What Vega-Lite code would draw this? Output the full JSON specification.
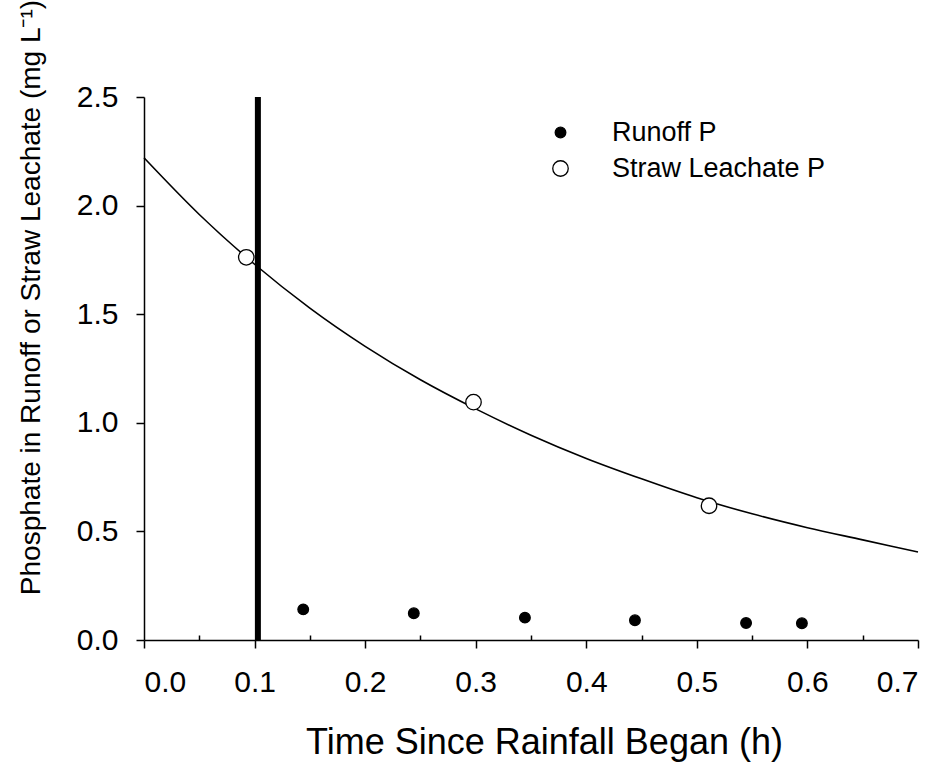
{
  "$schema": "https://vega.github.io/schema/vega-lite/v6.json",
  "autosize": {"type": "none"},
  "width": 774,
  "height": 543,
  "padding": {"left": 144, "top": 97, "right": 29, "bottom": 123},
  "background": "white",
  "config": {
    "view": {"stroke": null},
    "font": "Liberation Sans",
    "axis": {
      "domainColor": "black",
      "domainWidth": 1.5,
      "tickColor": "black",
      "tickWidth": 1.5,
      "labelColor": "black",
      "titleColor": "black",
      "labelFont": "Liberation Sans",
      "titleFont": "Liberation Sans",
      "titleFontWeight": "normal",
      "grid": false
    },
    "legend": {
      "orient": "none",
      "legendX": 403,
      "legendY": 22,
      "title": null,
      "labelFontSize": 27,
      "labelFont": "Liberation Sans",
      "labelColor": "black",
      "labelLimit": 0,
      "symbolType": "circle",
      "symbolStrokeWidth": 1.3,
      "symbolOpacity": 1,
      "rowPadding": 8,
      "labelOffset": 38,
      "padding": 0
    }
  },
  "datasets": {
    "points": [
      {"time": 0.144, "p": 0.141, "series": "Runoff P"},
      {"time": 0.244, "p": 0.123, "series": "Runoff P"},
      {"time": 0.3445, "p": 0.103, "series": "Runoff P"},
      {"time": 0.444, "p": 0.091, "series": "Runoff P"},
      {"time": 0.5445, "p": 0.078, "series": "Runoff P"},
      {"time": 0.595, "p": 0.077, "series": "Runoff P"},
      {"time": 0.0925, "p": 1.762, "series": "Straw Leachate P"},
      {"time": 0.298, "p": 1.095, "series": "Straw Leachate P"},
      {"time": 0.511, "p": 0.618, "series": "Straw Leachate P"}
    ],
    "curve": [
      {"time": 0.0, "p": 2.22},
      {"time": 0.05, "p": 1.959},
      {"time": 0.1, "p": 1.73},
      {"time": 0.15, "p": 1.528},
      {"time": 0.2, "p": 1.352},
      {"time": 0.25, "p": 1.198},
      {"time": 0.3, "p": 1.064},
      {"time": 0.35, "p": 0.943},
      {"time": 0.4, "p": 0.836},
      {"time": 0.45, "p": 0.742},
      {"time": 0.5, "p": 0.655},
      {"time": 0.55, "p": 0.581},
      {"time": 0.6, "p": 0.517},
      {"time": 0.65, "p": 0.461},
      {"time": 0.7, "p": 0.405}
    ],
    "marker": [{"time": 0.103}]
  },
  "layer": [
    {
      "data": {"name": "marker"},
      "mark": {"type": "rule", "strokeWidth": 6, "color": "black"},
      "encoding": {
        "x": {
          "field": "time",
          "type": "quantitative",
          "scale": {"domain": [0, 0.7], "nice": false, "zero": false},
          "axis": {
            "orient": "bottom",
            "values": [0.05, 0.15, 0.25, 0.35, 0.45, 0.55, 0.65],
            "tickSize": -5,
            "labels": false,
            "domain": false,
            "title": null
          }
        }
      }
    },
    {
      "data": {"name": "curve"},
      "mark": {"type": "line", "color": "black", "strokeWidth": 1.6, "interpolate": "monotone"},
      "encoding": {
        "x": {"field": "time", "type": "quantitative", "axis": null},
        "y": {"field": "p", "type": "quantitative"}
      }
    },
    {
      "data": {"name": "points"},
      "mark": {"type": "point", "shape": "circle", "filled": true, "strokeWidth": 1.3, "opacity": 1},
      "encoding": {
        "x": {
          "field": "time",
          "type": "quantitative",
          "axis": {
            "orient": "bottom",
            "values": [0, 0.1, 0.2, 0.3, 0.4, 0.5, 0.6, 0.7],
            "format": ".1f",
            "tickSize": 8,
            "labelFontSize": 30,
            "labelPadding": 19,
            "title": "Time Since Rainfall Began (h)",
            "titleFontSize": 36,
            "titlePadding": 28,
            "titleX": 400,
            "titleAlign": "center"
          }
        },
        "y": {
          "field": "p",
          "type": "quantitative",
          "scale": {"domain": [0, 2.5], "nice": false},
          "axis": {
            "values": [0, 0.5, 1, 1.5, 2, 2.5],
            "format": ".1f",
            "tickSize": 8,
            "labelFontSize": 30,
            "labelPadding": 18,
            "title": "Phosphate in Runoff or Straw Leachate (mg L⁻¹)",
            "titleFontSize": 28,
            "titleAngle": -90,
            "titleAlign": "center",
            "titleBaseline": "alphabetic",
            "titleX": -105,
            "titleY": 200
          }
        },
        "fill": {
          "field": "series",
          "type": "nominal",
          "scale": {"domain": ["Runoff P", "Straw Leachate P"], "range": ["black", "white"]},
          "legend": {"title": null}
        },
        "stroke": {
          "field": "series",
          "type": "nominal",
          "scale": {"domain": ["Runoff P", "Straw Leachate P"], "range": ["black", "black"]},
          "legend": {"title": null}
        },
        "size": {
          "field": "series",
          "type": "nominal",
          "scale": {"domain": ["Runoff P", "Straw Leachate P"], "range": [113, 240]},
          "legend": {"title": null}
        }
      }
    }
  ],
  "resolve": {"axis": {"x": "independent"}}
}
